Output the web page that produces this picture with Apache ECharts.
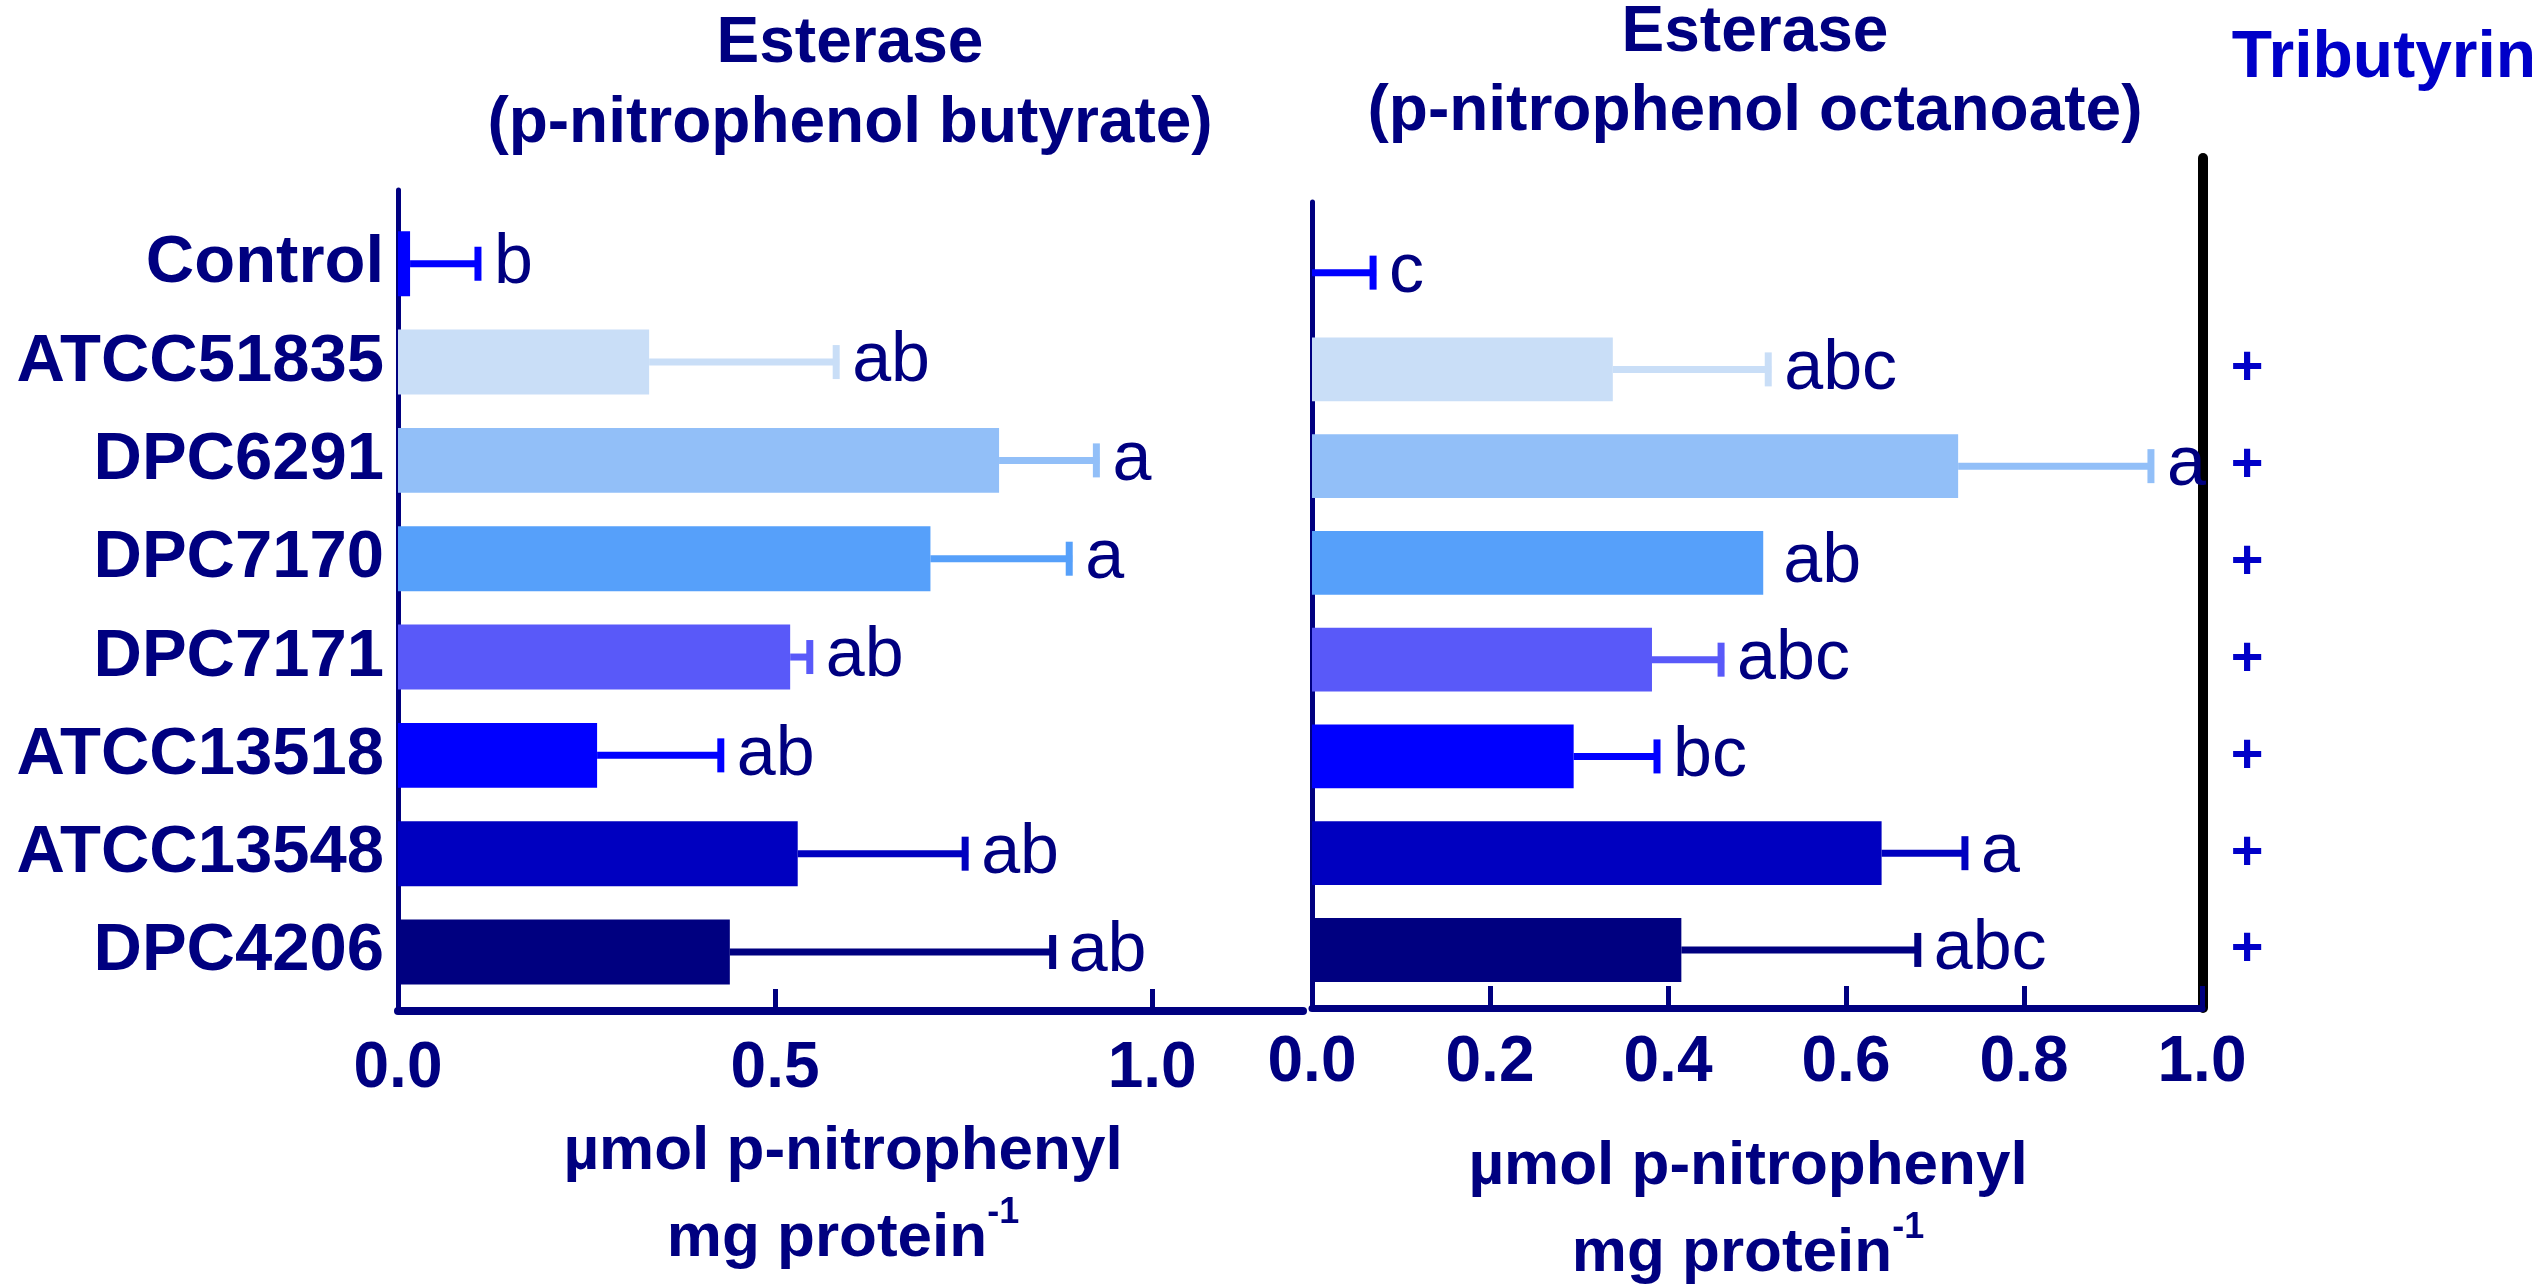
<!DOCTYPE html>
<html>
<head>
<meta charset="utf-8">
<title>Esterase activity</title>
<script src="https://cdn.jsdelivr.net/npm/echarts@6.0.0/dist/echarts.min.js"></script>
<style>
  html, body { margin: 0; padding: 0; background: #fff; }
  #chart { width: 2548px; height: 1286px; }
</style>
</head>
<body>
<div id="chart"></div>
<script>
    // strains, top to bottom
    var strains = ['Control', 'ATCC51835', 'DPC6291', 'DPC7170', 'DPC7171', 'ATCC13518', 'ATCC13548', 'DPC4206'];
    var barColors = ['#0000FF', '#C9DEF7', '#92BFF8', '#56A0FA', '#5959F9', '#0000FF', '#0000C0', '#000080'];

    // esterase, p-nitrophenol butyrate
    var butyrateMean = [0.016, 0.333, 0.797, 0.706, 0.520, 0.264, 0.530, 0.440];
    var butyrateSd = [0.094, 0.252, 0.133, 0.188, 0.030, 0.168, 0.226, 0.432];
    var butyrateLetters = ['b', 'ab', 'a', 'a', 'ab', 'ab', 'ab', 'ab'];

    // esterase, p-nitrophenol octanoate
    var octanoateMean = [0.000, 0.338, 0.726, 0.507, 0.382, 0.294, 0.640, 0.415];
    var octanoateSd = [0.072, 0.178, 0.220, 0.000, 0.081, 0.097, 0.097, 0.269];
    var octanoateLetters = ['c', 'abc', 'a', 'ab', 'abc', 'bc', 'a', 'abc'];

    // tributyrin plate result
    var tributyrin = ['', '+', '+', '+', '+', '+', '+', '+'];

    var butyrateTicks = [0, 0.5, 1.0];
    var octanoateTicks = [0, 0.2, 0.4, 0.6, 0.8, 1.0];

    var navy = '#000080';
    var font = '"Liberation Sans", Arial, sans-serif';
    var rowIndex = strains.map(function (s, i) { return i; });

    function rows(mean, sd) {
        return strains.map(function (s, i) { return [i, mean[i], sd[i]]; });
    }

    function renderBar(params, api) {
        var i = api.value(0);
        var p0 = api.coord([0, i]);
        var p1 = api.coord([api.value(1), i]);
        var h = api.size([0, 1])[1] * 0.66;
        return {
            type: 'rect',
            shape: { x: p0[0], y: p0[1] - h / 2, width: p1[0] - p0[0], height: h },
            style: { fill: barColors[i] }
        };
    }

    function errorRenderer(letters) {
        return function (params, api) {
            var i = api.value(0);
            var mean = api.value(1);
            var sd = api.value(2);
            var pm = api.coord([mean, i]);
            var pe = api.coord([mean + sd, i]);
            var children = [];
            if (sd > 0) {
                children.push({
                    type: 'line',
                    shape: { x1: pm[0], y1: pm[1], x2: pe[0], y2: pe[1] },
                    style: { stroke: barColors[i], lineWidth: 7 }
                });
                children.push({
                    type: 'line',
                    shape: { x1: pe[0] - 3, y1: pe[1] - 17, x2: pe[0] - 3, y2: pe[1] + 17 },
                    style: { stroke: barColors[i], lineWidth: 7 }
                });
            }
            children.push({
                type: 'text',
                style: {
                    text: letters[params.dataIndex],
                    x: pe[0] + (sd > 0 ? 13 : 20),
                    y: pe[1],
                    fill: navy,
                    font: '70px ' + font,
                    align: 'left',
                    verticalAlign: 'middle'
                }
            });
            return { type: 'group', children: children };
        };
    }

    function renderPlus(params, api) {
        var p = api.coord([api.value(0), api.value(1)]);
        return {
            type: 'text',
            style: {
                text: tributyrin[params.dataIndex],
                x: p[0], y: p[1],
                fill: '#0000C8',
                font: 'bold 56px ' + font,
                align: 'center',
                verticalAlign: 'middle'
            }
        };
    }

    function catAxis(gridIndex, min, showLabels) {
        return {
            type: 'value',
            gridIndex: gridIndex,
            inverse: true,
            min: min,
            max: 7.6,
            splitLine: { show: false },
            axisTick: { show: false },
            axisLine: { show: true, onZero: false, lineStyle: { color: navy, width: 5 } },
            axisLabel: {
                show: showLabels,
                customValues: rowIndex,
                margin: 14,
                formatter: function (v) { return strains[v]; },
                color: navy,
                fontFamily: font,
                fontWeight: 'bold',
                fontSize: 67
            }
        };
    }

    function textEl(text, x, y, size, color) {
        return {
            type: 'text', x: x, y: y,
            style: {
                text: text, fill: color, font: 'bold ' + size + 'px ' + font,
                align: 'center', verticalAlign: 'middle'
            }
        };
    }

    function unitEl(x, y) {
        return {
            type: 'text', x: x, y: y,
            style: {
                text: '{a|µmol p-nitrophenyl}\n{a|mg protein}{s|-1}',
                fill: navy,
                align: 'center', verticalAlign: 'middle',
                rich: {
                    a: { fontFamily: font, fontWeight: 'bold', fontSize: 62, lineHeight: 87, fill: navy },
                    s: { fontFamily: font, fontWeight: 'bold', fontSize: 36, lineHeight: 87, fill: navy, verticalAlign: 'top', padding: [0, 0, 30, 0] }
                }
            }
        };
    }

    var myChart = echarts.init(document.getElementById('chart'));
    var option = {
        backgroundColor: '#ffffff',
        animation: false,
        grid: [
            { left: 398, right: 1245, top: 190, bottom: 275 },
            { left: 1312, right: 346, top: 202, bottom: 278 },
            { left: 2203, width: 100, top: 158, bottom: 278 }
        ],
        xAxis: [
            {
                type: 'value', gridIndex: 0, min: 0, max: 1.2,
                splitLine: { show: false },
                axisLine: { onZero: false, lineStyle: { color: navy, width: 8 } },
                axisTick: { inside: true, length: 22, customValues: butyrateTicks, lineStyle: { color: navy, width: 5 } },
                axisLabel: {
                    customValues: butyrateTicks, margin: 26,
                    formatter: function (v) { return v.toFixed(1); },
                    color: navy, fontFamily: font, fontWeight: 'bold', fontSize: 64
                }
            },
            {
                type: 'value', gridIndex: 1, min: 0, max: 1.0,
                splitLine: { show: false },
                axisLine: { onZero: false, lineStyle: { color: navy, width: 7 } },
                axisTick: { inside: true, length: 22, customValues: octanoateTicks, lineStyle: { color: navy, width: 5 } },
                axisLabel: {
                    customValues: octanoateTicks, margin: 23,
                    formatter: function (v) { return v.toFixed(1); },
                    color: navy, fontFamily: font, fontWeight: 'bold', fontSize: 64
                }
            },
            { type: 'value', gridIndex: 2, min: 0, max: 1, show: false }
        ],
        yAxis: [
            catAxis(0, -0.75, true),
            catAxis(1, -0.73, false),
            {
                type: 'value', gridIndex: 2, inverse: true, min: -1.18, max: 7.6,
                splitLine: { show: false }, axisTick: { show: false }, axisLabel: { show: false },
                axisLine: { show: true, onZero: false, lineStyle: { color: '#000000', width: 10 } }
            }
        ],
        graphic: [
            textEl('Esterase', 850, 44, 64, navy),
            textEl('(p-nitrophenol butyrate)', 850, 124, 64, navy),
            textEl('Esterase', 1755, 33, 64, navy),
            textEl('(p-nitrophenol octanoate)', 1755, 112, 64, navy),
            textEl('Tributyrin', 2384, 59, 66, '#0000C8'),
            unitEl(843, 1195),
            unitEl(1748, 1210)
        ],
        series: [
            {
                type: 'custom', name: 'butyrate', xAxisIndex: 0, yAxisIndex: 0,
                renderItem: renderBar, encode: { x: 1, y: 0 },
                data: rows(butyrateMean, butyrateSd)
            },
            {
                type: 'custom', name: 'butyrate error', xAxisIndex: 0, yAxisIndex: 0,
                renderItem: errorRenderer(butyrateLetters), encode: { x: 1, y: 0 },
                data: rows(butyrateMean, butyrateSd), z: 3
            },
            {
                type: 'custom', name: 'octanoate', xAxisIndex: 1, yAxisIndex: 1,
                renderItem: renderBar, encode: { x: 1, y: 0 },
                data: rows(octanoateMean, octanoateSd)
            },
            {
                type: 'custom', name: 'octanoate error', xAxisIndex: 1, yAxisIndex: 1,
                renderItem: errorRenderer(octanoateLetters), encode: { x: 1, y: 0 },
                data: rows(octanoateMean, octanoateSd), z: 3
            },
            {
                type: 'custom', name: 'tributyrin', xAxisIndex: 2, yAxisIndex: 2,
                renderItem: renderPlus, encode: { x: 0, y: 1 },
                data: tributyrin.map(function (t, i) { return [0.44, i]; })
            }
        ]
    };
    myChart.setOption(option);
</script>
</body>
</html>
